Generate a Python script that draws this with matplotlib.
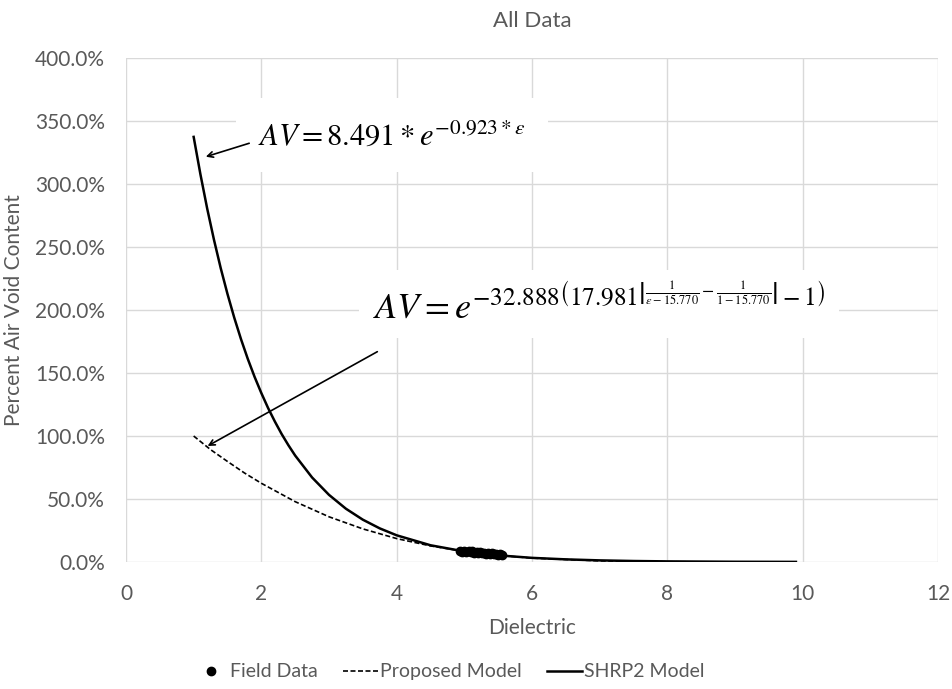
import matplotlib
matplotlib.use("Agg")
import matplotlib.pyplot as plt
from matplotlib.ticker import PercentFormatter

# field measurements (dielectric, air void fraction)
field_x = [4.93, 4.97, 5.0, 5.03, 5.07, 5.1, 5.12, 5.15, 5.18, 5.2, 5.23, 5.26,
           5.29, 5.32, 5.35, 5.38, 5.41, 5.44, 5.47, 5.5, 5.53, 5.56]
field_y = [0.086, 0.082, 0.088, 0.080, 0.084, 0.079, 0.086, 0.075, 0.080, 0.072,
           0.077, 0.070, 0.074, 0.066, 0.071, 0.063, 0.068, 0.060, 0.064, 0.057,
           0.061, 0.055]

# SHRP2 model curve
shrp2_x = [1.0, 1.1, 1.2, 1.3, 1.4, 1.5, 1.6, 1.7, 1.8, 1.9, 2.0, 2.1, 2.2, 2.3,
           2.4, 2.5, 2.75, 3.0, 3.25, 3.5, 3.75, 4.0, 4.5, 5.0, 5.5, 6.0, 6.5,
           7.0, 7.5, 8.0, 9.0, 9.9]
shrp2_y = [3.374, 3.077, 2.805, 2.558, 2.332, 2.127, 1.939, 1.768, 1.612, 1.470,
           1.341, 1.222, 1.115, 1.016, 0.927, 0.845, 0.671, 0.533, 0.423, 0.336,
           0.267, 0.212, 0.133, 0.084, 0.053, 0.033, 0.021, 0.013, 0.008, 0.005,
           0.002, 0.001]

# proposed model curve
prop_x = [1.0, 1.25, 1.5, 1.75, 2.0, 2.5, 3.0, 3.5, 4.0, 4.5, 5.0, 5.5, 6.0,
          7.0, 8.0, 9.0, 9.9]
prop_y = [1.000, 0.892, 0.798, 0.707, 0.625, 0.479, 0.359, 0.263, 0.186, 0.128,
          0.084, 0.053, 0.031, 0.009, 0.002, 0.0002, 0.0]

plt.rcParams['font.family'] = ['Lato', 'DejaVu Sans']
plt.rcParams['mathtext.fontset'] = 'stix'
gray = '#595959'

fig = plt.figure(figsize=(9.53, 6.89), dpi=100)
ax = fig.add_axes([0.1322, 0.1843, 0.8521, 0.7315])

ax.plot(field_x, field_y, 'o', color='black', markersize=6, label='Field Data', zorder=4)
ax.plot(prop_x, prop_y, color='black', linewidth=1.2, dashes=(3, 1.5), label='Proposed Model')
ax.plot(shrp2_x, shrp2_y, '-', color='black', linewidth=1.8, label='SHRP2 Model')

ax.set_xlim(0, 12)
ax.set_ylim(0, 4)
ax.set_xticks(range(0, 13, 2))
ax.set_yticks([i * 0.5 for i in range(9)])
ax.yaxis.set_major_formatter(PercentFormatter(1.0, decimals=1))
ax.grid(True, color='#d9d9d9', linewidth=1)
ax.set_axisbelow(True)
for s in ax.spines.values():
    s.set_visible(False)
ax.tick_params(axis='y', length=0, labelsize=15, labelcolor=gray, pad=15)
ax.tick_params(axis='x', length=0, labelsize=15, labelcolor=gray, pad=16)

ax.set_title('All Data', fontsize=16, color=gray, pad=22)
ax.set_xlabel('Dielectric', fontsize=15, color=gray, labelpad=10)
ax.set_ylabel('Percent Air Void Content', fontsize=15, color=gray, labelpad=8)

ax.text(1.95, 3.39, r'$AV = 8.491 * e^{-0.923 * \varepsilon}$', fontsize=22,
        va='center', ha='left', zorder=3,
        bbox=dict(facecolor='white', edgecolor='none', pad=16))
ax.text(3.65, 2.05, r'$AV = e^{-32.888\left(17.981^{\left|\frac{1}{\varepsilon-15.770}-\frac{1}{1-15.770}\right|}-1\right)}$',
        fontsize=26, va='center', ha='left', zorder=3,
        bbox=dict(facecolor='white', edgecolor='none', pad=10))

ax.annotate('', xy=(1.14, 3.21), xytext=(1.86, 3.33),
            arrowprops=dict(arrowstyle='->', color='black', lw=1.2), zorder=5)
ax.annotate('', xy=(1.17, 0.91), xytext=(3.75, 1.68),
            arrowprops=dict(arrowstyle='->', color='black', lw=1.2), zorder=5)

leg = ax.legend(loc='center', bbox_to_anchor=(0.398, -0.218), ncol=3,
                frameon=False, fontsize=14, handlelength=1.8, handletextpad=0.1,
                columnspacing=1.3)
for t in leg.get_texts():
    t.set_color(gray)

fig.savefig('out.png', dpi=100)
